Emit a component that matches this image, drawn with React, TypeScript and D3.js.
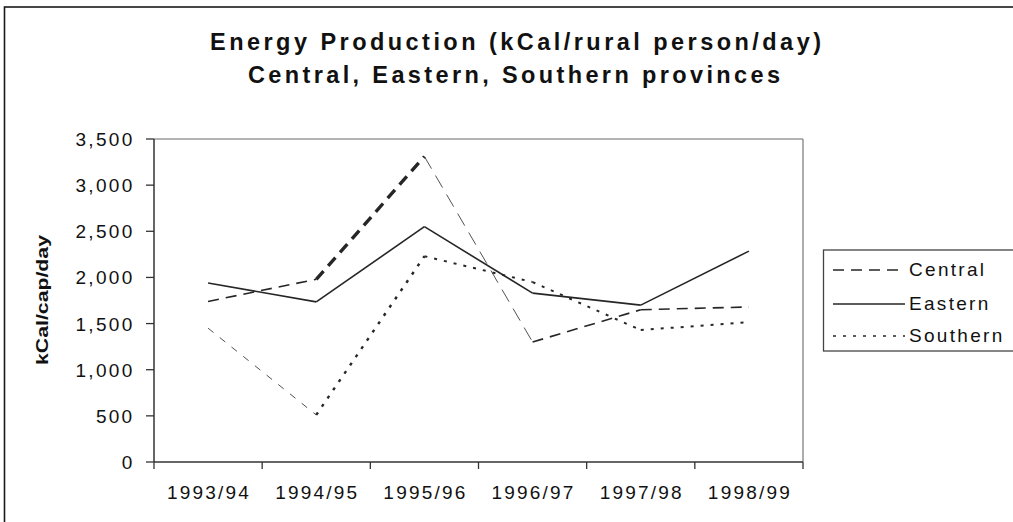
import * as d3 from 'd3';

// values
const categories = ['1993/94', '1994/95', '1995/96', '1996/97', '1997/98', '1998/99'];
const centralValues = [1740, 1980, 3310, 1300, 1650, 1680];
const easternValues = [1940, 1735, 2550, 1830, 1700, 2285];
const southernValues = [1450, 510, 2230, 1950, 1430, 1515];
const yTicks = [0, 500, 1000, 1500, 2000, 2500, 3000, 3500];
const seriesNames = ['Central', 'Eastern', 'Southern'];

// line styles (the original has some odd per-segment weights)
const seriesStyles = [
  { dash: '11,7', widths: [1.6, 3.4, 0.8, 1.6, 1.6], dashes: ['11,7', '11,7', '14,8', '11,7', '11,7'] },
  { dash: null, widths: [1.6, 1.6, 1.6, 1.6, 1.6], dashes: [null, null, null, null, null] },
  { dash: '3,7', widths: [0.8, 2.4, 2, 2, 2], dashes: ['7,8', '3,7', '3,7', '3,7', '3,7'] },
];

const W = 1013;
const H = 522;
const font = '"Liberation Sans", Arial, sans-serif';
const ink = '#262626';

export default function App() {
  const plot = { left: 154, right: 803, top: 139, bottom: 462 };

  const x = d3
    .scaleBand<string>()
    .domain(categories)
    .range([plot.left, plot.right])
    .padding(0);
  const cx = (c: string) => (x(c) as number) + x.bandwidth() / 2;

  const y = d3.scaleLinear().domain([0, 3500]).range([plot.bottom, plot.top]);
  const fmt = d3.format(',');

  const series = [centralValues, easternValues, southernValues];

  // tick positions at band edges, excel style
  const xTickPos = categories.map((c) => x(c) as number).concat([plot.right]);

  const legendRows = [270, 304, 336];

  return (
    <div>
      <style>{`body{margin:0}`}</style>
      <svg width={W} height={H} style={{ display: 'block', fontFamily: font }}>
        <rect x={0} y={0} width={W} height={H} fill="#fff" />
        {/* outer frame */}
        <rect x={4.5} y={7} width={W + 20} height={H + 20} fill="none" stroke="#1a1a1a" strokeWidth={1.6} />

        {/* title */}
        <text x={515.5} y={50} textAnchor="middle" fontSize={23.5} fontWeight="bold" fill="#111"
          textLength={611} lengthAdjust="spacing">
          Energy Production (kCal/rural person/day)
        </text>
        <text x={514} y={83} textAnchor="middle" fontSize={23.5} fontWeight="bold" fill="#111"
          textLength={532} lengthAdjust="spacing">
          Central, Eastern, Southern provinces
        </text>

        {/* plot frame: top and right light, axes dark */}
        <line x1={plot.left} x2={plot.right} y1={plot.top} y2={plot.top} stroke="#9a9a9a" strokeWidth={1.4} />
        <line x1={plot.right} x2={plot.right} y1={plot.top} y2={plot.bottom} stroke="#8a8a8a" strokeWidth={1.4} />
        <line x1={plot.left} x2={plot.left} y1={plot.top} y2={plot.bottom} stroke="#333" strokeWidth={1.5} />
        <line x1={plot.left} x2={plot.right} y1={plot.bottom} y2={plot.bottom} stroke="#333" strokeWidth={1.5} />

        {/* y axis ticks + labels */}
        {yTicks.map((t) => (
          <g key={t}>
            <line x1={plot.left - 8} x2={plot.left} y1={y(t)} y2={y(t)} stroke="#333" strokeWidth={1.3} />
            <text x={134.5} y={y(t) + 7} textAnchor="end" fontSize={19} letterSpacing={2.3} fill="#111">
              {fmt(t)}
            </text>
          </g>
        ))}

        {/* x axis ticks + labels */}
        {xTickPos.map((p, i) => (
          <line key={i} x1={p} x2={p} y1={plot.bottom} y2={plot.bottom + 7} stroke="#333" strokeWidth={1.3} />
        ))}
        {categories.map((c) => (
          <text key={c} x={cx(c) + 1} y={498.5} textAnchor="middle" fontSize={19} letterSpacing={2.2} fill="#111">
            {c}
          </text>
        ))}

        {/* y axis title */}
        <text transform="translate(48,300) rotate(-90)" textAnchor="middle" fontSize={17} fontWeight="bold"
          fill="#111" textLength={130} lengthAdjust="spacingAndGlyphs">
          kCal/cap/day
        </text>

        {/* series, segment by segment */}
        {series.map((vals, si) =>
          vals.slice(0, -1).map((v, i) => (
            <line
              key={`${si}-${i}`}
              x1={cx(categories[i])}
              y1={y(v)}
              x2={cx(categories[i + 1])}
              y2={y(vals[i + 1])}
              stroke={ink}
              strokeWidth={seriesStyles[si].widths[i]}
              strokeDasharray={seriesStyles[si].dashes[i] ?? undefined}
            />
          ))
        )}

        {/* legend */}
        <rect x={823.5} y={250} width={220} height={101} fill="#fff" stroke="#444" strokeWidth={1.3} />
        {seriesNames.map((name, i) => (
          <g key={name}>
            <line x1={833} x2={905} y1={legendRows[i]} y2={legendRows[i]} stroke={ink} strokeWidth={1.6}
              strokeDasharray={seriesStyles[i].dash ?? undefined} />
            <text x={909} y={legendRows[i] + 6} fontSize={19} letterSpacing={2.3} fill="#111">
              {name}
            </text>
          </g>
        ))}
      </svg>
    </div>
  );
}
